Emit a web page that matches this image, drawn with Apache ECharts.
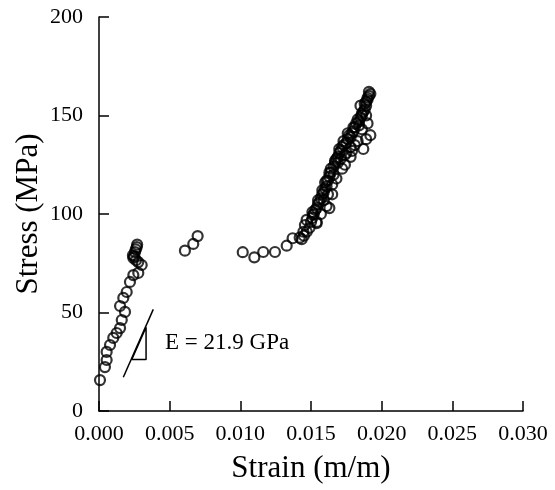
<!DOCTYPE html>
<html>
<head>
<meta charset="utf-8">
<script src="https://cdn.jsdelivr.net/npm/echarts@6/dist/echarts.min.js"></script>
<style>html,body{margin:0;padding:0;background:#fff}#c{width:555px;height:490px}</style>
</head>
<body>
<div id="c"></div>
<script>
// Loading branch (elastic part)
var loadingStrain = [0.00007,0.00042,0.00054,0.00054,0.00078,0.00101,0.00125,0.00149,0.00161,0.00184,0.00149,0.00172,0.00196,0.00219,0.00243,0.00278,0.00302,0.00278,0.00243,0.00255,0.00267,0.00250,0.00260,0.00270,0.00240,0.00262];
var loadingStress = [15.7,22.3,25.9,30.0,33.5,37.1,39.6,42.1,46.2,50.3,53.3,57.4,60.4,65.5,69.0,70.1,74.1,75.6,77.7,80.7,83.2,78.5,82.0,84.5,79.0,76.5];
// Slip / plateau branch
var slipStrain = [0.00608,0.00667,0.00698,0.01017,0.01099,0.01162,0.01245,0.01328,0.01370,0.01434,0.01446,0.01457,0.01469,0.01540,0.01514];
var slipStress = [81.4,84.8,88.8,80.6,78.0,80.7,80.7,83.9,87.7,87.2,91.0,94.4,97.0,95.3,99.5];
// Hardening branch
var hardStrain = [0.0142,0.0145,0.0147,0.0149,0.0150,0.0151,0.0152,0.0153,0.0154,0.0155,0.0156,0.0157,0.0158,0.0159,0.0160,0.0161,0.0160,0.0162,0.0163,0.0163,0.0164,0.0166,0.0167,0.0168,0.0169,0.0170,0.0171,0.0172,0.0173,0.0175,0.0176,0.0178,0.0179,0.0180,0.0181,0.0182,0.0184,0.0185,0.0186,0.0187,0.0188,0.0189,0.0189,0.0190,0.0191,0.0192,0.0191,
  0.0154,0.0163,0.0159,0.0165,0.0166,0.0172,0.0171,0.0175,0.0179,0.0178,0.0176,0.0183,0.0187,0.0189,0.0192,0.0186,0.0190,0.0189,0.0185,0.0161,0.0157,0.0168,0.0174,0.0181,
  0.0151,0.0155,0.0158,0.0161,0.0164,0.0167,0.0170,0.0173,0.0177,0.0180,0.0183,0.0186,0.0188,0.0190,0.0162,0.0165,0.0169,0.0174,0.0178,0.0184];
var hardStress = [88,89,91,93,96,98,100,102,103,105,106,108,110,111,113,114,116,117,119,121,123,124,126,128,129,131,132,134,135,136,138,139,141,142,144,146,147,149,150,152,153,155,157,158,160,161,162,
  96,103,107,110,120,123,128,131,132,129,141,137,133,138,140,143,146,150,155,104,100,118,125,135,
  101,107,112,117,121,127,133,137,140,144,148,151,156,159,110,115,126,130,134,145];
// Modulus annotation (slope line and triangle), in data units
var slopeLineX = [0.00172,0.00384];
var slopeLineY = [17.1,51.6];
var triX = [0.00232,0.00333,0.00333];
var triY = [26.2,26.2,42.5];
var annotationText = 'E = 21.9 GPa';
var xTicks = ['0.000','0.005','0.010','0.015','0.020','0.025','0.030'];

function pairs(xs, ys){ return xs.map(function(x,i){return [x, ys[i]];}); }
var pts = pairs(loadingStrain, loadingStress).concat(pairs(slipStrain, slipStress)).concat(pairs(hardStrain, hardStress));
var tri = pairs(triX, triY); tri.push(tri[0]);

var font = '"Liberation Serif","Times New Roman",serif';
var chart = echarts.init(document.getElementById('c'));
chart.setOption({
  animation:false,
  backgroundColor:'#fff',
  grid:{left:99,right:32,top:17,bottom:79},
  xAxis:{type:'value',min:0,max:0.030,interval:0.005,
    name:'Strain (m/m)',nameLocation:'middle',nameGap:42,
    nameTextStyle:{fontFamily:font,fontSize:31,color:'#000'},
    axisLine:{lineStyle:{color:'#000',width:1.5}},
    axisTick:{inside:true,length:10,lineStyle:{color:'#000',width:1.5}},
    axisLabel:{fontFamily:font,fontSize:22,color:'#000',margin:12,formatter:function(v){return xTicks[Math.round(v/0.005)];}},
    splitLine:{show:false}},
  yAxis:{type:'value',min:0,max:200,interval:50,
    name:'Stress (MPa)',nameLocation:'middle',nameGap:55,nameMoveOverlap:false,
    nameTextStyle:{fontFamily:font,fontSize:31,color:'#000'},
    axisLine:{lineStyle:{color:'#000',width:1.5}},
    axisTick:{inside:true,length:10,lineStyle:{color:'#000',width:1.5}},
    axisLabel:{fontFamily:font,fontSize:22,color:'#000',margin:16},
    splitLine:{show:false}},
  series:[
    {type:'scatter',data:pts,symbol:'circle',symbolSize:10,
      itemStyle:{color:'rgba(0,0,0,0)',borderColor:'#000',borderWidth:2.2}},
    {type:'line',data:pairs(slopeLineX,slopeLineY),symbol:'none',lineStyle:{color:'#000',width:1.5}},
    {type:'line',data:tri,symbol:'none',lineStyle:{color:'#000',width:1.5}}
  ],
  graphic:[{type:'text',left:165,top:331,style:{text:annotationText,font:'23px '+font,fill:'#000'}}]
});
</script>
</body>
</html>
